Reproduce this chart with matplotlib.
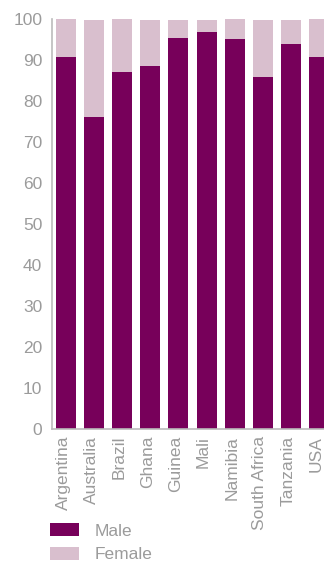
import matplotlib
matplotlib.use("Agg")
import matplotlib.pyplot as plt
import matplotlib.transforms as mtransforms
import numpy as np

countries = ["Argentina", "Australia", "Brazil", "Ghana", "Guinea", "Mali",
             "Namibia", "South Africa", "Tanzania", "USA"]
male = [90.7, 76.1, 87.1, 88.5, 95.4, 96.8, 95.1, 85.9, 93.9, 90.7]
female = [9.3, 23.7, 12.9, 11.3, 4.4, 3.0, 4.9, 13.9, 5.9, 9.3]

male_col = "#77005A"
female_col = "#D9BFCE"
grey = "#9B9B9B"

plt.rcParams["font.family"] = ["Liberation Sans", "DejaVu Sans"]

W, H = 324, 561
fig = plt.figure(figsize=(W / 100, H / 100), dpi=100)
ax = fig.add_axes([52 / W, 1 - 429 / H, 1 - 52 / W, (429 - 19) / H])

x = np.arange(len(countries))
b1 = ax.bar(x, male, width=0.71, color=male_col, label="Male")
b2 = ax.bar(x, female, width=0.71, bottom=male, color=female_col, label="Female")

ax.set_xlim(-0.5, 9.18)
ax.set_ylim(0, 100)
ax.set_yticks(range(0, 101, 10))
ax.set_xticks(x)
ax.set_xticklabels(countries, rotation=90)
ax.tick_params(axis="both", length=0, labelsize=12.5, labelcolor=grey)
ax.tick_params(axis="y", pad=7)
ax.tick_params(axis="x", pad=5)

# labels sit a little left of the bar centres in the original
shift = mtransforms.ScaledTranslation(-3 / 100, 0, fig.dpi_scale_trans)
for lab in ax.get_xticklabels():
    lab.set_transform(lab.get_transform() + shift)

for s in ["top", "right"]:
    ax.spines[s].set_visible(False)
for s in ["left", "bottom"]:
    ax.spines[s].set_color("#BBBBBB")
    ax.spines[s].set_linewidth(1.2)

fig.legend(handles=[b1, b2], loc="upper left",
           bbox_to_anchor=(50 / W, 1 - 523 / H), frameon=False,
           fontsize=12.5, labelcolor=grey, borderpad=0, borderaxespad=0,
           handlelength=1.67, handleheight=0.8, handletextpad=0.9,
           labelspacing=0.46)

fig.savefig("out.png", dpi=100)
